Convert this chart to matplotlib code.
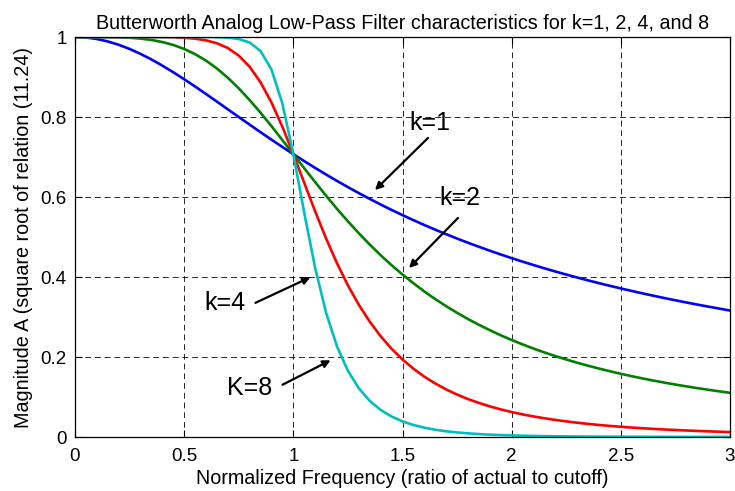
import numpy as np
import matplotlib
matplotlib.use("Agg")
import matplotlib.pyplot as plt

plt.rcParams['font.family'] = ['Liberation Sans', 'DejaVu Sans']

# normalized frequency, step 0.05 from 0 to 3
freq = [0.00, 0.05, 0.10, 0.15, 0.20, 0.25, 0.30, 0.35, 0.40, 0.45,
        0.50, 0.55, 0.60, 0.65, 0.70, 0.75, 0.80, 0.85, 0.90, 0.95,
        1.00, 1.05, 1.10, 1.15, 1.20, 1.25, 1.30, 1.35, 1.40, 1.45,
        1.50, 1.55, 1.60, 1.65, 1.70, 1.75, 1.80, 1.85, 1.90, 1.95,
        2.00, 2.05, 2.10, 2.15, 2.20, 2.25, 2.30, 2.35, 2.40, 2.45,
        2.50, 2.55, 2.60, 2.65, 2.70, 2.75, 2.80, 2.85, 2.90, 2.95,
        3.00]

mag_k1 = [1.000, 0.9988, 0.9950, 0.9889, 0.9806, 0.9701, 0.9578, 0.9439, 0.9285, 0.9119,
          0.8944, 0.8762, 0.8575, 0.8384, 0.8192, 0.8000, 0.7809, 0.7619, 0.7433, 0.7250,
          0.7071, 0.6897, 0.6727, 0.6562, 0.6402, 0.6247, 0.6097, 0.5952, 0.5812, 0.5677,
          0.5547, 0.5421, 0.5300, 0.5183, 0.5070, 0.4961, 0.4856, 0.4755, 0.4657, 0.4563,
          0.4472, 0.4384, 0.4299, 0.4217, 0.4138, 0.4061, 0.3987, 0.3915, 0.3846, 0.3779,
          0.3714, 0.3651, 0.3590, 0.3531, 0.3473, 0.3417, 0.3363, 0.3311, 0.3260, 0.3211,
          0.3162]

mag_k2 = [1.000, 1.000, 1.000, 0.9997, 0.9992, 0.9981, 0.9960, 0.9926, 0.9874, 0.9801,
          0.9701, 0.9571, 0.9409, 0.9212, 0.8980, 0.8716, 0.8422, 0.8106, 0.7771, 0.7422,
          0.7071, 0.6719, 0.6372, 0.6031, 0.5704, 0.5391, 0.5093, 0.4811, 0.4544, 0.4295,
          0.4062, 0.3844, 0.3638, 0.3448, 0.3270, 0.3104, 0.2949, 0.2805, 0.2670, 0.2543,
          0.2425, 0.2315, 0.2211, 0.2114, 0.2023, 0.1938, 0.1857, 0.1782, 0.1711, 0.1644,
          0.1580, 0.1520, 0.1463, 0.1410, 0.1359, 0.1311, 0.1266, 0.1222, 0.1181, 0.1142,
          0.1104]

mag_k4 = [1.000, 1.000, 1.000, 1.000, 1.000, 1.000, 1.000, 0.9999, 0.9997, 0.9992,
          0.9981, 0.9958, 0.9917, 0.9844, 0.9724, 0.9534, 0.9255, 0.8865, 0.8361, 0.7754,
          0.7071, 0.6354, 0.5640, 0.4964, 0.4344, 0.3790, 0.3304, 0.2883, 0.2519, 0.2206,
          0.1938, 0.1707, 0.1508, 0.1337, 0.1189, 0.1060, 0.0948, 0.0851, 0.0765, 0.0690,
          0.0624, 0.0565, 0.0514, 0.0468, 0.0427, 0.0390, 0.0357, 0.0328, 0.0301, 0.0277,
          0.0256, 0.0236, 0.0219, 0.0203, 0.0188, 0.0175, 0.0163, 0.0152, 0.0141, 0.0132,
          0.0123]

mag_k8 = [1.000, 1.000, 1.000, 1.000, 1.000, 1.000, 1.000, 1.000, 1.000, 1.000,
          1.000, 1.000, 0.9999, 0.9995, 0.9983, 0.9950, 0.9862, 0.9648, 0.9185, 0.8333,
          0.7071, 0.5604, 0.4227, 0.3107, 0.2265, 0.1655, 0.1217, 0.0903, 0.0676, 0.0511,
          0.0390, 0.0300, 0.0233, 0.0182, 0.0143, 0.0114, 0.0091, 0.0073, 0.0059, 0.0048,
          0.0039, 0.0032, 0.0026, 0.0022, 0.0018, 0.0015, 0.0013, 0.0011, 0.0009, 0.0008,
          0.0007, 0.0006, 0.0005, 0.0004, 0.0004, 0.0003, 0.0003, 0.0002, 0.0002, 0.0002,
          0.0002]

xticks = [0, 0.5, 1, 1.5, 2, 2.5, 3]
xtick_labels = ["0", "0.5", "1", "1.5", "2", "2.5", "3"]
yticks = [0, 0.2, 0.4, 0.6, 0.8, 1]
ytick_labels = ["0", "0.2", "0.4", "0.6", "0.8", "1"]

fig = plt.figure(figsize=(7.35, 4.91), dpi=100)
ax = fig.add_axes([75 / 735, 1 - 437 / 491, 655 / 735, 400 / 491])

lw = 1.9
ax.plot(freq, mag_k1, color=(0, 0, 1), lw=lw)
ax.plot(freq, mag_k2, color=(0, 0.5, 0), lw=lw)
ax.plot(freq, mag_k4, color=(1, 0, 0), lw=lw)
ax.plot(freq, mag_k8, color=(0, 0.75, 0.75), lw=lw)

ax.set_xlim(0, 3)
ax.set_ylim(0, 1)
ax.set_xticks(xticks)
ax.set_xticklabels(xtick_labels)
ax.set_yticks(yticks)
ax.set_yticklabels(ytick_labels)
ax.tick_params(direction="in", top=True, right=True, length=5, labelsize=13.5)
ax.tick_params(axis="x", pad=8)
ax.tick_params(axis="y", pad=6)
ax.grid(True, color="black", linestyle=(0, (6, 4)), linewidth=0.7, alpha=0.85)
for s in ax.spines.values():
    s.set_linewidth(0.9)

ax.set_title("Butterworth Analog Low-Pass Filter characteristics for k=1, 2, 4, and 8",
             fontsize=14.2, pad=6)
ax.set_xlabel("Normalized Frequency (ratio of actual to cutoff)", fontsize=14.2, labelpad=3)
ax.set_ylabel("Magnitude A (square root of relation (11.24)", fontsize=14.2, labelpad=5)

arrow = dict(arrowstyle="-|>", color="black", lw=1.6, mutation_scale=11)
ax.annotate("", xy=(1.365, 0.6125), xytext=(1.626, 0.7525), arrowprops=arrow)
ax.text(1.626, 0.785, "k=1", fontsize=18, ha="center", va="center")
ax.annotate("", xy=(1.521, 0.4175), xytext=(1.763, 0.5525), arrowprops=arrow)
ax.text(1.763, 0.5975, "k=2", fontsize=18, ha="center", va="center")
ax.annotate("", xy=(1.090, 0.4025), xytext=(0.815, 0.3325), arrowprops=arrow)
ax.text(0.78, 0.335, "k=4", fontsize=18, ha="right", va="center")
ax.annotate("", xy=(1.182, 0.195), xytext=(0.939, 0.1275), arrowprops=arrow)
ax.text(0.905, 0.122, "K=8", fontsize=18, ha="right", va="center")

fig.savefig("out.png", dpi=100)
